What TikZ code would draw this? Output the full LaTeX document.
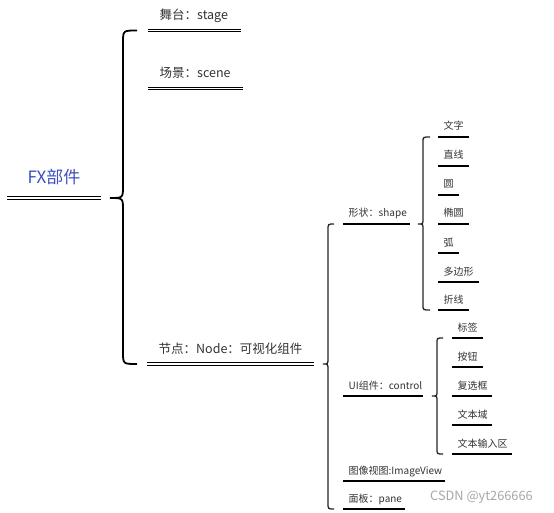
\documentclass[tikz,border=0pt]{standalone}
\usepackage{fontspec}
\setmainfont{Noto Sans CJK SC}
\usetikzlibrary{calc}
\definecolor{txt}{HTML}{333333}
\definecolor{rootblue}{HTML}{3F4FBF}
\definecolor{wmgray}{HTML}{A8A8A8}
\newcommand\mkitem[7]{%
  \coordinate (#3-l) at (#4,#6);
  \coordinate (#3-r) at (#5,#6);
  \draw[#1] (#3-l) -- (#3-r);
  \node[#2] (#3) at (#3-l) {#7};}
\newcommand\drawbrace[8]{%
  \draw[#1] let \p1=(#2-r), \p2=(#3-l), \p3=(#4-l) in
   ({\x2-#7},\y2) .. controls ({\x1+#5+#6},\y2) .. ({\x1+#5+#6},{\y2-#8})
   -- ({\x1+#5+#6},{\y1+#8}) .. controls ({\x1+#5+#6},\y1) .. ({\x1+#5},\y1)
   .. controls ({\x1+#5+#6},\y1) .. ({\x1+#5+#6},{\y1-#8})
   -- ({\x1+#5+#6},{\y3+#8}) .. controls ({\x1+#5+#6},\y3) .. ({\x2-#7},\y3);}
\begin{document}
\begin{tikzpicture}[x={(1pt,0pt)},y={(0pt,-1pt)},
  dbl/.style={draw=black, double=white, double distance=1.3pt, line width=1.2pt},
  sgl/.style={draw=black, line width=1.3pt},
  bigbrace/.style={draw=black, line width=1.8pt},
  smallbrace/.style={draw=black!85, line width=1.3pt},
  troot/.style={font=\fontsize{17}{20}\selectfont, text=rootblue, inner sep=0pt, anchor=base},
  tone/.style={font=\fontsize{12.5}{15}\selectfont, text=txt, inner sep=0pt, anchor=base west, xshift=11.5pt, yshift=10.5pt},
  ttwo/.style={font=\fontsize{10}{12}\selectfont, text=txt, inner sep=0pt, anchor=base west, xshift=5.5pt, yshift=7pt},
]
\useasboundingbox (0,0) rectangle (554,513);
\fill[white] (0,0) rectangle (554,513);

% root
\coordinate (root-l) at (7,198);
\coordinate (root-r) at (101,198);
\draw[dbl] (root-l) -- (root-r);
\node[troot, yshift=14.5pt] (root) at ($(root-l)!0.5!(root-r)$) {FX部件};

% level 1
\mkitem{dbl}{tone}{stage}{148}{241}{30.5}{舞台：stage}
\mkitem{dbl}{tone}{scene}{148}{243}{88.5}{场景：scene}
\mkitem{dbl}{tone}{node}{147}{314}{364}{节点：Node：可视化组件}

% level 2
\mkitem{sgl}{ttwo}{shape}{343}{410}{224}{形状：shape}
\mkitem{sgl}{ttwo}{control}{343}{423}{396}{UI组件：control}
\mkitem{sgl}{ttwo}{imageview}{343}{445}{481}{图像视图:ImageView}
\mkitem{sgl}{ttwo}{pane}{343}{405}{509}{面板：pane}

% shape leaves
\mkitem{sgl}{ttwo}{wenzi}{438}{469}{137}{文字}
\mkitem{sgl}{ttwo}{zhixian}{438}{469}{166}{直线}
\mkitem{sgl}{ttwo}{yuan}{438}{459}{195}{圆}
\mkitem{sgl}{ttwo}{tuoyuan}{438}{469}{224}{椭圆}
\mkitem{sgl}{ttwo}{hu}{438}{459}{253}{弧}
\mkitem{sgl}{ttwo}{duobian}{438}{479}{282}{多边形}
\mkitem{sgl}{ttwo}{zhexian}{438}{469}{310}{折线}

% control leaves
\mkitem{sgl}{ttwo}{biaoqian}{452}{483}{338}{标签}
\mkitem{sgl}{ttwo}{anniu}{452}{483}{367}{按钮}
\mkitem{sgl}{ttwo}{fuxuan}{452}{492}{396}{复选框}
\mkitem{sgl}{ttwo}{wenbenyu}{452}{492}{425}{文本域}
\mkitem{sgl}{ttwo}{shuru}{452}{512}{454}{文本输入区}

% braces
\drawbrace{bigbrace}{root}{stage}{node}{9pt}{13pt}{11pt}{12pt}
\drawbrace{smallbrace}{node}{shape}{pane}{9pt}{5pt}{9pt}{6pt}
\drawbrace{smallbrace}{shape}{wenzi}{zhexian}{8pt}{5pt}{8pt}{5pt}
\drawbrace{smallbrace}{control}{biaoqian}{shuru}{9pt}{5pt}{9pt}{5pt}

% watermark
\node[font=\fontsize{12.8}{15}\selectfont, text=wmgray, inner sep=0pt, anchor=base west] (wm) at (430,500.5) {CSDN @yt266666};
\end{tikzpicture}
\end{document}
